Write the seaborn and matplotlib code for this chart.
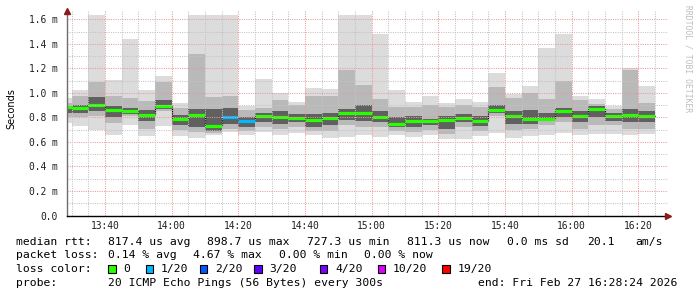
import numpy as np
import pandas as pd
import matplotlib
matplotlib.use("Agg")
import matplotlib.pyplot as plt
from matplotlib.patches import Rectangle
import seaborn as sns

# ---------------- data (values in ms, shown as "m" seconds) ----------------
first_bar_start = "2026-02-27 13:25"
axis_origin = "2026-02-27 13:30"
step_minutes = 5

rtt_max = [0.955, 1.023, 1.635, 1.105, 1.437, 1.023, 1.135, 0.922, 1.635, 1.635,
           1.635, 0.892, 1.118, 0.996, 0.928, 1.037, 1.029, 1.635, 1.635, 1.478,
           1.023, 0.928, 0.974, 0.920, 0.947, 0.928, 1.159, 0.988, 1.059, 1.363,
           1.478, 0.977, 0.950, 0.895, 1.200, 1.059]
rtt_upper = [0.920, 0.977, 1.090, 0.977, 0.961, 0.933, 1.086, 0.880, 1.314, 0.969,
             0.977, 0.860, 0.879, 0.941, 0.900, 0.977, 0.977, 1.186, 1.069, 0.950,
             0.887, 0.887, 0.900, 0.887, 0.900, 0.887, 1.050, 0.955, 0.996, 0.950,
             1.096, 0.941, 0.914, 0.873, 1.190, 0.920]
rtt_core_hi = [0.89, 0.90, 0.97, 0.89, 0.88, 0.86, 0.94, 0.82, 0.87, 0.87,
               0.88, 0.80, 0.84, 0.85, 0.83, 0.83, 0.84, 0.87, 0.90, 0.85,
               0.80, 0.81, 0.79, 0.81, 0.83, 0.81, 0.90, 0.85, 0.86, 0.84,
               0.88, 0.85, 0.89, 0.84, 0.87, 0.85]
rtt_median = [0.884, 0.876, 0.899, 0.857, 0.855, 0.819, 0.890, 0.789, 0.824, 0.727,
              0.805, 0.770, 0.816, 0.800, 0.795, 0.778, 0.797, 0.833, 0.833, 0.800,
              0.748, 0.773, 0.773, 0.778, 0.797, 0.770, 0.860, 0.811, 0.789, 0.786,
              0.852, 0.811, 0.873, 0.811, 0.824, 0.811]
rtt_core_lo = [0.84, 0.84, 0.85, 0.80, 0.83, 0.77, 0.87, 0.74, 0.72, 0.69,
               0.75, 0.72, 0.76, 0.75, 0.76, 0.72, 0.74, 0.78, 0.77, 0.76,
               0.72, 0.72, 0.74, 0.71, 0.76, 0.73, 0.84, 0.75, 0.75, 0.77,
               0.80, 0.76, 0.80, 0.77, 0.76, 0.76]
rtt_lower = [0.800, 0.800, 0.816, 0.751, 0.816, 0.710, 0.850, 0.700, 0.680, 0.670,
             0.710, 0.690, 0.720, 0.710, 0.720, 0.690, 0.690, 0.735, 0.720, 0.720,
             0.690, 0.680, 0.700, 0.667, 0.720, 0.690, 0.816, 0.694, 0.708, 0.740,
             0.762, 0.708, 0.735, 0.735, 0.708, 0.708]
rtt_min = [0.751, 0.729, 0.700, 0.661, 0.735, 0.647, 0.727, 0.645, 0.634, 0.653,
           0.680, 0.659, 0.680, 0.659, 0.675, 0.653, 0.631, 0.639, 0.653, 0.639,
           0.653, 0.639, 0.659, 0.626, 0.626, 0.647, 0.672, 0.631, 0.647, 0.659,
           0.675, 0.653, 0.667, 0.667, 0.659, 0.667]
lost_pings = [0, 0, 0, 0, 0, 0, 0, 0, 0, 0,
              1, 1, 0, 0, 0, 0, 0, 0, 0, 0,
              0, 0, 0, 0, 0, 0, 0, 0, 0, 0,
              0, 0, 0, 0, 0, 0]

loss_levels = [0, 1, 2, 3, 4, 10, 19]
loss_labels = ["0", "1/20", "2/20", "3/20", "4/20", "10/20", "19/20"]
loss_colors = ["#26ff00", "#00b8ff", "#0059ff", "#5e00ff", "#7e00ff", "#dd00ff", "#ff0000"]

x_tick_labels = ["13:40", "14:00", "14:20", "14:40", "15:00", "15:20", "15:40", "16:00", "16:20"]
y_tick_values = [0.0, 0.2, 0.4, 0.6, 0.8, 1.0, 1.2, 1.4, 1.6]
y_tick_labels = ["0.0", "0.2 m", "0.4 m", "0.6 m", "0.8 m", "1.0 m", "1.2 m", "1.4 m", "1.6 m"]

stats_line1 = [("median rtt:", 16.0), ("817.4 us avg", 107.6), ("898.7 us max", 206.7),
               ("727.3 us min", 306.7), ("811.3 us now", 406.7), ("0.0 ms sd", 506.7),
               ("20.1", 586.7), ("am/s", 635.6)]
stats_line2 = [("packet loss:", 16.0), ("0.14 % avg", 107.6), ("4.67 % max", 193.3),
               ("0.00 % min", 279.0), ("0.00 % now", 364.4)]
probe_text = "20 ICMP Echo Pings (56 Bytes) every 300s"
end_text = "end: Fri Feb 27 16:28:24 2026"

# ---------------- frame ----------------
starts = pd.date_range(first_bar_start, periods=len(rtt_median), freq=f"{step_minutes}min")
origin = pd.Timestamp(axis_origin)
xs = np.asarray((starts - origin) / pd.Timedelta(minutes=1), dtype=float)
df = pd.DataFrame({
    "start": xs, "max": rtt_max, "upper": rtt_upper, "core_hi": rtt_core_hi,
    "median": rtt_median, "core_lo": rtt_core_lo, "lower": rtt_lower,
    "min": rtt_min, "loss": lost_pings,
})
color_of = dict(zip(loss_levels, loss_colors))
df["color"] = df["loss"].map(color_of)

sns.set_theme(style="white")
plt.rcParams["font.family"] = ["DejaVu Sans Mono", "DejaVu Sans"]

W, H = 697, 297
fig = plt.figure(figsize=(W / 100, H / 100), dpi=100)
fig.patch.set_facecolor("white")

left_px, right_px, bottom_px, top_px = 66.7, 668.0, 215.5, 11.0
ax = fig.add_axes([left_px / W, 1 - bottom_px / H,
                   (right_px - left_px) / W, (bottom_px - top_px) / H])
ax.set_facecolor("white")

# smoke
ax.bar(df["start"], df["max"] - df["min"], bottom=df["min"], width=step_minutes,
       align="edge", color="#dcdcdc", linewidth=0, zorder=1)
ax.bar(df["start"], df["upper"] - df["lower"], bottom=df["lower"], width=step_minutes,
       align="edge", color="#b9b9b9", linewidth=0, zorder=2)
ax.bar(df["start"], df["core_hi"] - df["core_lo"], bottom=df["core_lo"], width=step_minutes,
       align="edge", color="#606060", linewidth=0, zorder=3)

# median: thin black step + loss-coloured segments
step_df = pd.DataFrame({"t": list(df["start"]) + [df["start"].iloc[-1] + step_minutes],
                        "v": list(df["median"]) + [df["median"].iloc[-1]]})
sns.lineplot(data=step_df, x="t", y="v", drawstyle="steps-post", color="black",
             linewidth=0.8, ax=ax, zorder=4)
ax.hlines(df["median"], df["start"], df["start"] + step_minutes, colors=df["color"],
          linewidth=2.3, zorder=5)

# axes setup
ax.set_xlim(-1.5, 178.9)
ax.set_ylim(0, 1.669)
ax.set_xlabel("")
ax.set_ylabel("")

major_x = [10 + 20 * i for i in range(len(x_tick_labels))]
ax.set_xticks(major_x)
ax.set_xticklabels(x_tick_labels)
ax.set_xticks(np.arange(0, 179, 5), minor=True)
ax.set_yticks(y_tick_values)
ax.set_yticklabels(y_tick_labels)
ax.set_yticks(np.arange(0.1, 1.65, 0.2), minor=True)

ax.tick_params(axis="both", which="both", labelsize=6.9, colors="#000000",
               length=2, width=0.7, direction="inout")
ax.tick_params(axis="y", which="both", pad=5.5)
ax.tick_params(axis="x", which="both", pad=3)
for lab in ax.get_xticklabels() + ax.get_yticklabels():
    lab.set_color("#202020")

# grid (on top, dotted)
for v in np.arange(0.1, 1.65, 0.2):
    ax.axhline(v, color="#c4c4c4", lw=0.75, ls=(0, (1, 1.2)), zorder=6)
for v in y_tick_values[1:]:
    ax.axhline(v, color="#eb9a9a", lw=0.75, ls=(0, (1, 1.2)), zorder=6)
for v in np.arange(0, 179, 5):
    if v % 20 != 10:
        ax.axvline(v, color="#c4c4c4", lw=0.75, ls=(0, (1, 1.2)), zorder=6)
for v in major_x:
    ax.axvline(v, color="#eb9a9a", lw=0.75, ls=(0, (1, 1.2)), zorder=6)

for s in ["top", "right"]:
    ax.spines[s].set_visible(False)
ax.spines["left"].set_color("#6e6e6e")
ax.spines["left"].set_linewidth(1.0)
ax.spines["bottom"].set_color("#000000")
ax.spines["bottom"].set_linewidth(1.0)
ax.spines["left"].set_zorder(7)
ax.spines["bottom"].set_zorder(7)

# arrows
ax.plot([0], [1.0], marker="^", markersize=4, color="#8b1a1a", transform=ax.transAxes,
        clip_on=False, zorder=8)
ax.plot([1.0], [0], marker=">", markersize=4, color="#8b1a1a", transform=ax.transAxes,
        clip_on=False, zorder=8)

# y label and watermark
fig.text(11 / W, 1 - 109 / H, "Seconds", rotation=90, ha="center", va="center",
         fontsize=7, family="DejaVu Sans", color="#000000")
fig.text(688 / W, 1 - 5 / H, "RRDTOOL / TOBI OETIKER", rotation=-90, ha="center", va="top",
         fontsize=5.8, color="#bdbdbd")

# legend text
fs = 8.2
def put(txt, x, y):
    fig.text(x / W, 1 - y / H, txt, ha="left", va="center", fontsize=fs, color="#000000")

for txt, x in stats_line1:
    put(txt, x, 241.7)
for txt, x in stats_line2:
    put(txt, x, 255.3)
put("loss color:", 16.0, 269.3)
box_x = [108.3, 145.8, 200.0, 254.2, 320.0, 377.8, 442.2]
for bx, c, lab in zip(box_x, loss_colors, loss_labels):
    fig.patches.append(Rectangle((bx / W, 1 - 273.3 / H), 7.4 / W, 8.0 / H,
                                 transform=fig.transFigure, facecolor=c,
                                 edgecolor="black", linewidth=0.8))
    put(lab, bx + 15.3, 269.3)
put("probe:", 16.0, 283.3)
put(probe_text, 107.6, 283.3)
put(end_text, 477.8, 283.3)

fig.savefig("out.png", dpi=100, facecolor="white")
